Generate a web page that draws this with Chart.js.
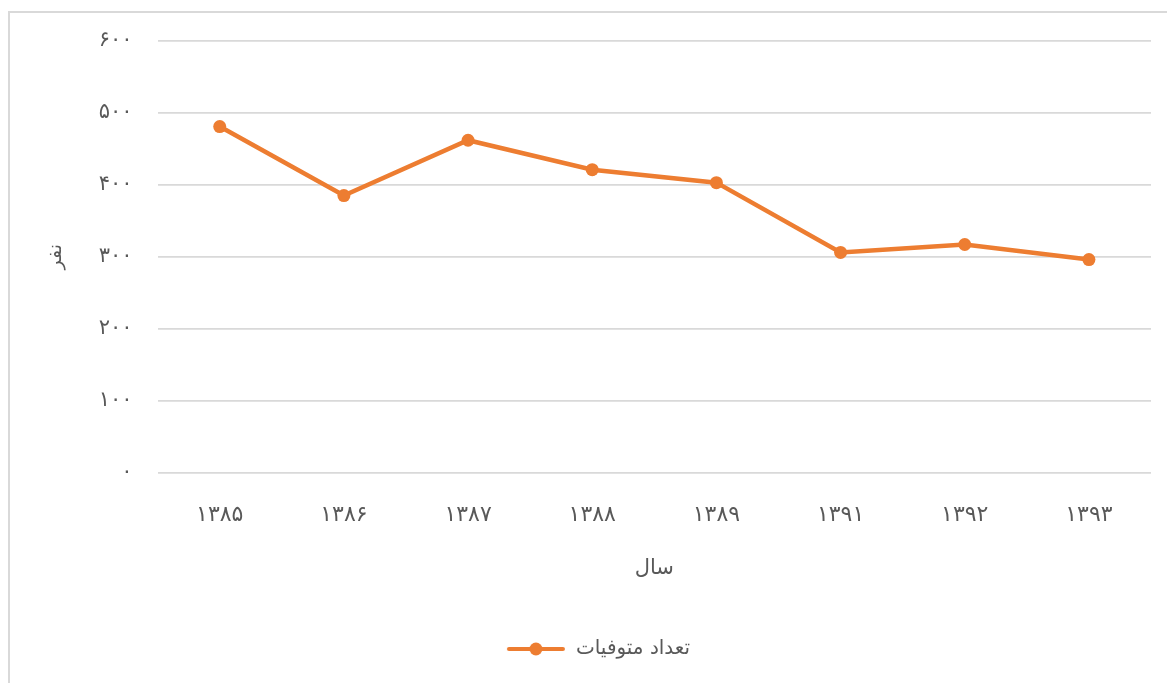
<!DOCTYPE html>
<html>
<head>
<meta charset="utf-8">
<script src="https://cdn.jsdelivr.net/npm/chart.js@4.4.1/dist/chart.umd.min.js"></script>
<style>
  html,body{margin:0;padding:0;background:#fff;}
  #wrap{position:relative;width:1167px;height:683px;overflow:hidden;}
  #frame{position:absolute;left:8px;top:11px;right:-4px;bottom:-4px;border-left:2px solid #d9d9d9;border-top:2px solid #d9d9d9;}
  canvas{position:absolute;left:0;top:0;}
</style>
</head>
<body>
<div id="wrap">
  <div id="frame"></div>
  <canvas id="c" width="1167" height="683"></canvas>
</div>
<script>
// سال‌ها و تعداد متوفیات
const years=["۱۳۸۵","۱۳۸۶","۱۳۸۷","۱۳۸۸","۱۳۸۹","۱۳۹۱","۱۳۹۲","۱۳۹۳"];
const deaths=[481,385,462,421,403,306,317,296];
const yTicks=[0,100,200,300,400,500,600];

const seriesName="تعداد متوفیات";
const xTitle="سال";
const yTitle="نفر";
const orange="#ED7D31";
const grey="#595959";
const FONT="'DejaVu Sans', sans-serif";

const faDigits=s=>String(s).replace(/\d/g,d=>"۰۱۲۳۴۵۶۷۸۹"[d]);

// legend marker: line with a dot in the middle
const mark=document.createElement("canvas");
mark.width=60;mark.height=16;
(()=>{
  const g=mark.getContext("2d");
  g.strokeStyle=orange;g.lineWidth=4;g.lineCap="round";
  g.beginPath();g.moveTo(3,8);g.lineTo(57,8);g.stroke();
  g.fillStyle=orange;g.beginPath();g.arc(30,8,6.5,0,Math.PI*2);g.fill();
})();

new Chart(document.getElementById("c"),{
  type:"line",
  data:{
    labels:years,
    datasets:[{
      label:seriesName,
      data:deaths,
      borderColor:orange,
      backgroundColor:orange,
      borderWidth:4.5,
      pointRadius:6.5,
      pointHoverRadius:6.5,
      pointBackgroundColor:orange,
      pointBorderWidth:0,
      tension:0
    }]
  },
  options:{
    responsive:false,
    animation:false,
    layout:{padding:{left:45,right:16,top:41,bottom:14}},
    scales:{
      x:{
        offset:true,
        grid:{display:false},
        border:{display:false},
        ticks:{color:grey,font:{family:FONT,size:22},padding:22},
        title:{display:true,text:xTitle,color:grey,font:{family:FONT,size:21},padding:{top:5,bottom:40}}
      },
      y:{
        min:0,max:600,
        afterBuildTicks:ax=>{ax.ticks=yTicks.map(v=>({value:v}));},
        grid:{color:"#d9d9d9",lineWidth:1.8,drawTicks:false},
        border:{display:false},
        ticks:{color:grey,font:{family:FONT,size:21},padding:25,callback:v=>faDigits(v)},
        title:{display:true,text:yTitle,color:grey,font:{family:FONT,size:19},padding:{top:0,bottom:6}}
      }
    },
    plugins:{
      tooltip:{enabled:false},
      legend:{
        position:"bottom",
        labels:{
          color:grey,
          font:{family:FONT,size:20},
          usePointStyle:true,
          pointStyleWidth:60,
          padding:18,
          generateLabels:ch=>[{text:seriesName,pointStyle:mark,fontColor:grey,datasetIndex:0,lineWidth:0}]
        }
      }
    }
  }
});
</script>
</body>
</html>
